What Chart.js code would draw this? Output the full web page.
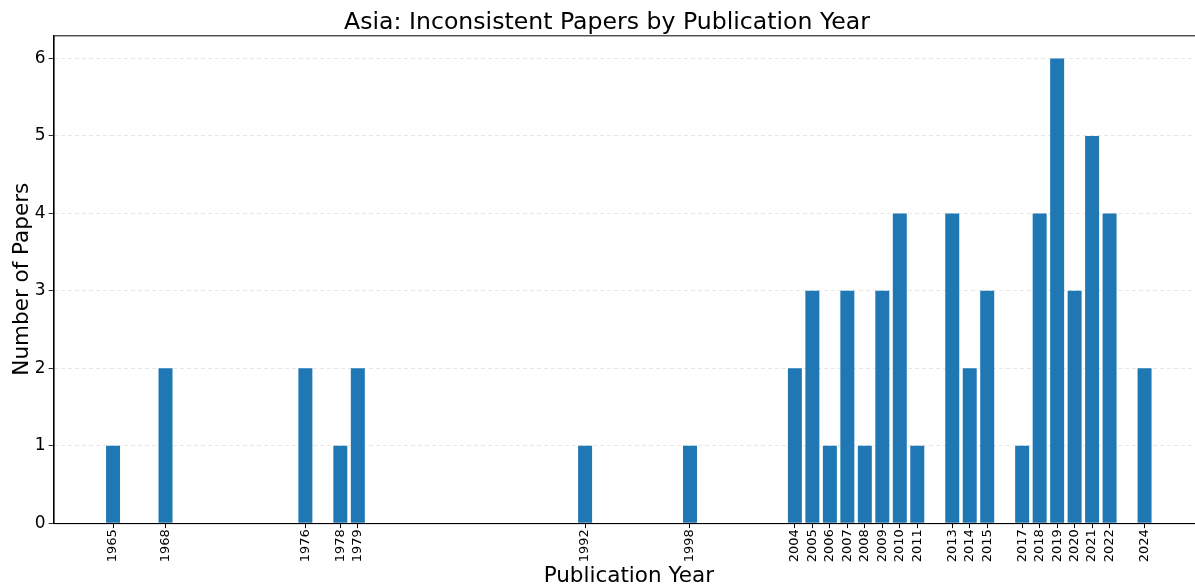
<!DOCTYPE html>
<html>
<head>
<meta charset="utf-8">
<script src="https://cdn.jsdelivr.net/npm/chart.js@4"></script>
<style>
  html, body { margin: 0; padding: 0; background: #fff; overflow: hidden; }
  #wrap { width: 1206px; height: 588px; position: relative; }
</style>
</head>
<body>
<div id="wrap"><canvas id="chart"></canvas></div>
<script>
// Роки публікацій та кількість статей
const years = [1965, 1968, 1976, 1978, 1979, 1992, 1998, 2004, 2005, 2006, 2007, 2008, 2009,
               2010, 2011, 2013, 2014, 2015, 2017, 2018, 2019, 2020, 2021, 2022, 2024];
const papers = [1, 2, 2, 1, 2, 1, 1, 2, 3, 1, 3, 1, 3, 4, 1, 4, 2, 3, 1, 4, 6, 3, 5, 4, 2];
const yTicks = [0, 1, 2, 3, 4, 5, 6];

const font = "'DejaVu Sans', sans-serif";

// Рамка навколо області графіка (як у matplotlib)
const frame = {
    id: 'frame',
    afterDraw(chart) {
        const { ctx, chartArea: a } = chart;
        ctx.save();
        ctx.strokeStyle = '#000';
        ctx.lineWidth = 1;
        ctx.strokeRect(a.left + 0.5, a.top + 0.5, a.right - a.left, a.bottom - a.top);
        ctx.restore();
    }
};

new Chart(document.getElementById('chart'), {
    type: 'bar',
    plugins: [frame],
    data: {
        datasets: [{
            data: years.map((y, i) => ({ x: y, y: papers[i] })),
            backgroundColor: '#1f77b4',
            barPercentage: 0.8,
            categoryPercentage: 1.0
        }]
    },
    options: {
        responsive: true,
        maintainAspectRatio: false,
        animation: false,
        layout: { padding: { left: 10, right: 2, top: 0, bottom: 0 } },
        plugins: {
            legend: { display: false },
            tooltip: { enabled: false },
            title: {
                display: true,
                text: 'Asia: Inconsistent Papers by Publication Year',
                color: '#000',
                font: { family: font, size: 23.6, weight: 'normal' },
                padding: { top: 9, bottom: -2 }
            }
        },
        scales: {
            x: {
                type: 'linear',
                min: 1961.6,
                max: 2027.4,
                offset: false,
                afterBuildTicks: (scale) => { scale.ticks = years.map(v => ({ value: v })); },
                ticks: {
                    autoSkip: false,
                    minRotation: 90,
                    maxRotation: 90,
                    color: '#000',
                    padding: 1,
                    font: { family: font, size: 13 },
                    callback: (v) => String(v)
                },
                grid: { offset: false, drawOnChartArea: false, drawTicks: true, tickLength: 5, tickColor: '#000' },
                border: { display: true, color: '#000' },
                title: {
                    display: true,
                    text: 'Publication Year',
                    color: '#000',
                    font: { family: font, size: 21.5 },
                    padding: { top: 0, bottom: -1 }
                }
            },
            y: {
                min: 0,
                max: 6.3,
                afterBuildTicks: (scale) => { scale.ticks = yTicks.map(v => ({ value: v })); },
                ticks: {
                    color: '#000',
                    padding: 3,
                    font: { family: font, size: 17 }
                },
                grid: { color: 'rgba(0,0,0,0.12)', tickColor: '#000', tickLength: 5, lineWidth: 0.8 },
                border: { display: true, color: '#000', dash: [4, 3] },
                title: {
                    display: true,
                    text: 'Number of Papers',
                    color: '#000',
                    font: { family: font, size: 21.5 },
                    padding: { top: 0, bottom: -4 }
                }
            }
        }
    }
});
</script>
</body>
</html>
